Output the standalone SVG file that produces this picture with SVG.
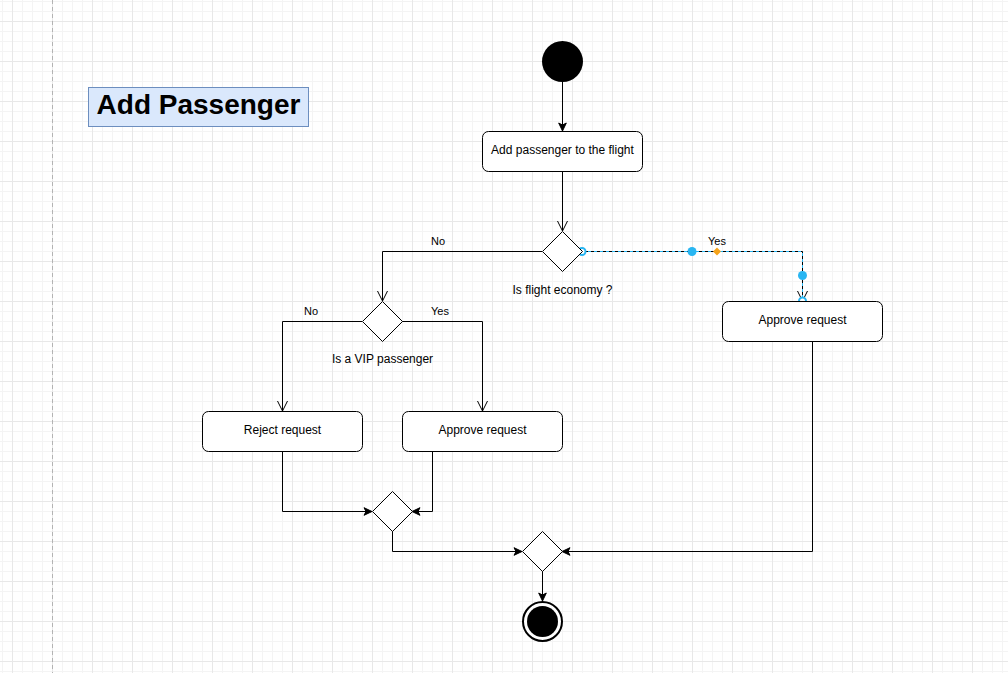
<svg xmlns="http://www.w3.org/2000/svg" width="1008" height="673" viewBox="0 0 1008 673">
<defs>
<pattern id="minor" patternUnits="userSpaceOnUse" x="2" y="1" width="10" height="10">
<path d="M0.5,0 V10 M0,0.5 H10" stroke="#f4f4f4" stroke-width="1" fill="none"/>
</pattern>
<pattern id="major" patternUnits="userSpaceOnUse" x="12" y="21" width="40" height="40">
<path d="M0.5,0 V40 M0,0.5 H40" stroke="#e8e8e8" stroke-width="1" fill="none"/>
</pattern>
<marker id="open" markerUnits="userSpaceOnUse" viewBox="-12 -7 14 14" refX="0" refY="0" markerWidth="14" markerHeight="14" orient="auto" overflow="visible">
<path d="M-10,-5 L0,0 L-10,5" fill="none" stroke="#000" stroke-width="1"/>
</marker>
<marker id="classic" markerUnits="userSpaceOnUse" viewBox="-10 -6 12 12" refX="0" refY="0" markerWidth="12" markerHeight="12" orient="auto" overflow="visible">
<path d="M0,0 L-8,-3.8 L-6,0 L-8,3.8 Z" fill="#000" stroke="#000" stroke-width="1"/>
</marker>
</defs>
<style>
.node rect.box{fill:#fff;stroke:#000;stroke-width:1}
.dia{fill:#fff;stroke:#000;stroke-width:1}
.t{font-family:"Liberation Sans",Arial,sans-serif;font-size:12px;fill:#000;text-anchor:middle}
.lbl{font-family:"Liberation Sans",Arial,sans-serif;font-size:11px;fill:#000;text-anchor:middle}
.edge{fill:none;stroke:#000;stroke-width:1}
</style>
<rect width="1008" height="673" fill="#fff"/>
<rect width="1008" height="673" fill="url(#minor)"/>
<rect width="1008" height="673" fill="url(#major)"/>
<line x1="52.5" y1="0" x2="52.5" y2="673" stroke="#b3b3b3" stroke-width="1" stroke-dasharray="4 3"/>

<g id="connectors">
<path class="edge" d="M562.5,82 V131" marker-end="url(#classic)"/>
<path class="edge" d="M562.5,171 V231" marker-end="url(#open)"/>
<path class="edge" d="M542,251.5 H382.5 V301" marker-end="url(#open)"/>
<path class="edge" d="M582,251.5 H802.5 V301" marker-end="url(#open)"/>
<path d="M582,251.5 H802.5 V301" fill="none" stroke="#29b6f2" stroke-width="1" stroke-dasharray="3 3"/>
<path class="edge" d="M362,321.5 H282.5 V411" marker-end="url(#open)"/>
<path class="edge" d="M402,321.5 H482.5 V411" marker-end="url(#open)"/>
<path class="edge" d="M282.5,451 V511.5 H372" marker-end="url(#classic)"/>
<path class="edge" d="M432.5,451 V511.5 H412" marker-end="url(#classic)"/>
<path class="edge" d="M392.5,531 V551.5 H522" marker-end="url(#classic)"/>
<path class="edge" d="M812.5,341 V551.5 H562" marker-end="url(#classic)"/>
<path class="edge" d="M542.5,571 V601" marker-end="url(#classic)"/>
<text class="lbl" x="438" y="245">No</text>
<text class="lbl" x="717" y="245">Yes</text>
<text class="lbl" x="311" y="315">No</text>
<text class="lbl" x="440" y="315">Yes</text>
<circle cx="582" cy="251.5" r="3.5" fill="#fff" stroke="#29b6f2" stroke-width="2"/>
<circle cx="692" cy="251.5" r="4.5" fill="#29b6f2"/>
<path d="M717,247.5 L721,251.5 L717,255.5 L713,251.5 Z" fill="#f5a31a"/>
<circle cx="802.5" cy="275.5" r="4.5" fill="#29b6f2"/>
<circle cx="802.5" cy="301" r="3.5" fill="#fff" stroke="#29b6f2" stroke-width="2"/>
</g>

<g id="title">
<rect x="88.5" y="87.5" width="220" height="39" fill="#dae8fc" stroke="#6c8ebf" stroke-width="1"/>
<text x="198.5" y="114" font-family="'Liberation Sans',Arial,sans-serif" font-size="28" font-weight="bold" text-anchor="middle" fill="#000">Add Passenger</text>
</g>

<g id="start" class="node">
<circle cx="562.5" cy="61.5" r="20.5" fill="#000"/>
</g>

<g id="addPassenger" class="node">
<rect class="box" x="482.5" y="131.5" width="160" height="40" rx="6"/>
<text class="t" x="562.5" y="153.5">Add passenger to the flight</text>
</g>

<g id="economyDecision" class="node">
<path class="dia" d="M562.5,231.5 L582.5,251.5 L562.5,271.5 L542.5,251.5 Z"/>
<text class="t" x="562.5" y="294">Is flight economy ?</text>
</g>

<g id="approveEconomy" class="node">
<rect class="box" x="722.5" y="301.5" width="160" height="40" rx="6"/>
<text class="t" x="802.5" y="323.5">Approve request</text>
</g>

<g id="vipDecision" class="node">
<path class="dia" d="M382.5,301.5 L402.5,321.5 L382.5,341.5 L362.5,321.5 Z"/>
<text class="t" x="382.5" y="363">Is a VIP passenger</text>
</g>

<g id="reject" class="node">
<rect class="box" x="202.5" y="411.5" width="160" height="40" rx="6"/>
<text class="t" x="282.5" y="433.5">Reject request</text>
</g>

<g id="approveVip" class="node">
<rect class="box" x="402.5" y="411.5" width="160" height="40" rx="6"/>
<text class="t" x="482.5" y="433.5">Approve request</text>
</g>

<g id="merge1" class="node">
<path class="dia" d="M392.5,491.5 L412.5,511.5 L392.5,531.5 L372.5,511.5 Z"/>
</g>

<g id="merge2" class="node">
<path class="dia" d="M542.5,531.5 L562.5,551.5 L542.5,571.5 L522.5,551.5 Z"/>
</g>

<g id="end" class="node">
<circle cx="542.5" cy="621.5" r="19.5" fill="#fff" stroke="#000" stroke-width="2"/>
<circle cx="542.5" cy="621.5" r="15.5" fill="#000"/>
</g>
</svg>
